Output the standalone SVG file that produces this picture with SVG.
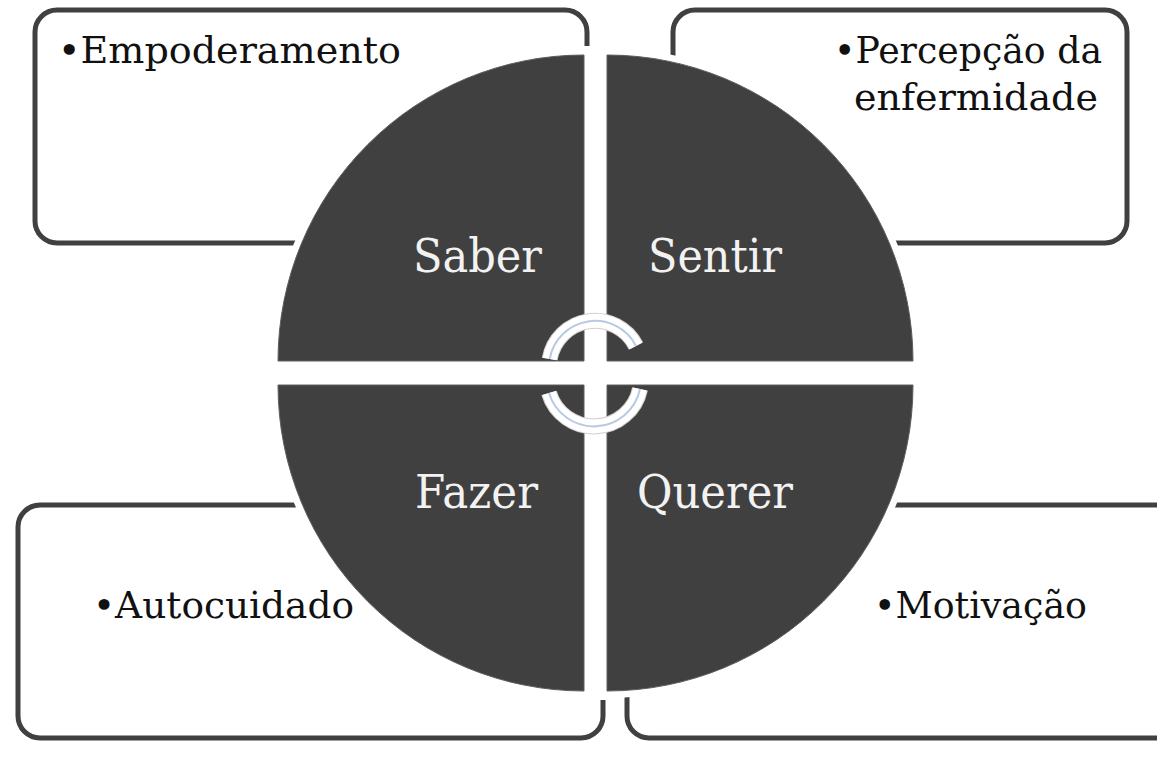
<svg xmlns="http://www.w3.org/2000/svg" width="1157" height="762" viewBox="0 0 1157 762">
  <style>
    .box { fill: #ffffff; stroke: #404040; stroke-width: 5; }
    .under { fill: #ffffff; stroke: #ffffff; stroke-width: 14; stroke-linejoin: round; }
    .sector { fill: #404040; stroke: #5e5e5e; stroke-width: 1; }
    .item { font-family: "DejaVu Serif", "Liberation Serif", serif; font-size: 38px; fill: #111111; }
    .label { font-family: "DejaVu Serif", "Liberation Serif", serif; font-size: 46px; fill: #f2f2f2; }
    .band { fill: none; stroke: #d0d0d0; stroke-width: 16; }
    .bandw { fill: none; stroke: #ffffff; stroke-width: 14; }
    .bandl { fill: none; stroke: #b9c9e4; stroke-width: 2; }
  </style>
  <rect width="1157" height="762" fill="#ffffff"/>

  <g id="box-empoderamento">
    <rect class="box" x="35" y="10" width="552" height="233" rx="22"/>
    <text class="item" x="58" y="63" textLength="343" lengthAdjust="spacingAndGlyphs">•Empoderamento</text>
  </g>
  <g id="box-percepcao">
    <rect class="box" x="673" y="10" width="454" height="233" rx="22"/>
    <text class="item" x="834" y="63" textLength="268" lengthAdjust="spacingAndGlyphs">•Percepção da</text>
    <text class="item" x="854" y="110" textLength="244" lengthAdjust="spacingAndGlyphs">enfermidade</text>
  </g>
  <g id="box-autocuidado">
    <rect class="box" x="18" y="505" width="585" height="233" rx="22"/>
    <text class="item" x="93" y="618" textLength="261" lengthAdjust="spacingAndGlyphs">•Autocuidado</text>
  </g>
  <g id="box-motivacao">
    <rect class="box" x="627" y="505" width="560" height="233" rx="22"/>
    <text class="item" x="874" y="618" textLength="213" lengthAdjust="spacingAndGlyphs">•Motivação</text>
  </g>

  <g id="circle-underlay">
    <path class="under" d="M584 361 L278 361 A306 306 0 0 1 584 55 Z"/>
    <path class="under" d="M607 361 L607 55 A306 306 0 0 1 913 361 Z"/>
    <path class="under" d="M584 385 L584 691 A306 306 0 0 1 278 385 Z"/>
    <path class="under" d="M607 385 L913 385 A306 306 0 0 1 607 691 Z"/>
    <rect x="584" y="46" width="23" height="654" fill="#ffffff"/>
  </g>

  <g id="sector-saber">
    <path class="sector" d="M584 361 L278 361 A306 306 0 0 1 584 55 Z"/>
    <text class="label" x="413" y="272" textLength="129" lengthAdjust="spacingAndGlyphs">Saber</text>
  </g>
  <g id="sector-sentir">
    <path class="sector" d="M607 361 L607 55 A306 306 0 0 1 913 361 Z"/>
    <text class="label" x="648" y="272" textLength="134" lengthAdjust="spacingAndGlyphs">Sentir</text>
  </g>
  <g id="sector-fazer">
    <path class="sector" d="M584 385 L584 691 A306 306 0 0 1 278 385 Z"/>
    <text class="label" x="415" y="508" textLength="123" lengthAdjust="spacingAndGlyphs">Fazer</text>
  </g>
  <g id="sector-querer">
    <path class="sector" d="M607 385 L913 385 A306 306 0 0 1 607 691 Z"/>
    <text class="label" x="637" y="508" textLength="156" lengthAdjust="spacingAndGlyphs">Querer</text>
  </g>

  <g id="connectors">
    <path class="band" d="M549.7 359 A46 46 0 0 1 636 346"/>
    <path class="bandw" d="M549.7 359 A46 46 0 0 1 636 346"/>
    <path class="bandl" d="M549.7 359 A46 46 0 0 1 636 346"/>
    <path class="band" d="M640 389 A47 47 0 0 1 549 393"/>
    <path class="bandw" d="M640 389 A47 47 0 0 1 549 393"/>
    <path class="bandl" d="M640 389 A47 47 0 0 1 549 393"/>
  </g>
</svg>
